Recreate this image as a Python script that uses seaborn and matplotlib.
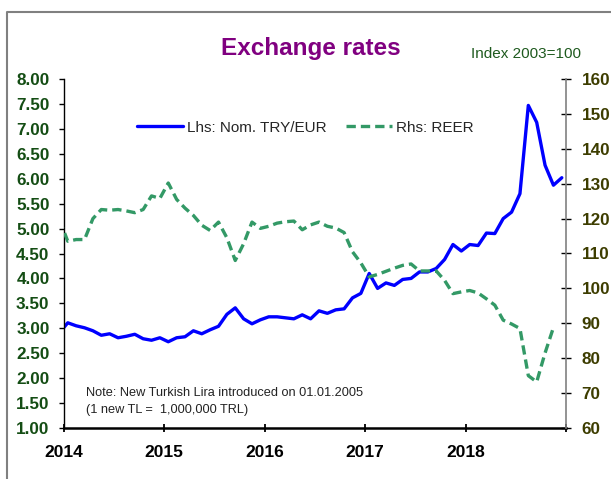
import matplotlib
matplotlib.use("Agg")
import matplotlib.pyplot as plt
from matplotlib.lines import Line2D
from matplotlib.transforms import ScaledTranslation
import numpy as np
import pandas as pd
import seaborn as sns

# Monthly observations, Dec 2013 .. Dec 2018 (Dec 2013 only anchors the first segment)
years = [2013] + [y for y in range(2014, 2019) for _ in range(12)]
months = [12] + list(range(1, 13)) * 5

# Nominal TRY/EUR (left axis)
try_eur = [
    2.91,
    3.11, 3.05, 3.01, 2.95, 2.86, 2.89, 2.81, 2.84, 2.88, 2.79, 2.76, 2.81,
    2.73, 2.81, 2.83, 2.95, 2.89, 2.97, 3.04, 3.28, 3.41, 3.19, 3.09, 3.17,
    3.23, 3.23, 3.21, 3.19, 3.27, 3.19, 3.35, 3.30, 3.37, 3.39, 3.61, 3.70,
    4.10, 3.80, 3.91, 3.86, 3.98, 4.00, 4.13, 4.13, 4.20, 4.38, 4.68, 4.55,
    4.68, 4.66, 4.91, 4.90, 5.20, 5.33, 5.70, 7.47, 7.13, 6.27, 5.87, 6.02,
]

# Real effective exchange rate, index 2003=100 (right axis); no Dec 2018 value
reer = [
    119.7,
    113.5, 114.0, 114.0, 120.0, 122.6, 122.4, 122.6, 122.2, 121.7, 122.6, 126.5, 125.8,
    130.2, 125.5, 123.0, 120.9, 118.1, 116.6, 119.0, 114.5, 108.0, 112.8, 119.0, 117.2,
    117.8, 118.7, 119.1, 119.3, 116.8, 118.2, 119.0, 117.8, 117.3, 116.0, 110.5, 107.3,
    103.3, 104.0, 104.9, 105.8, 106.6, 107.0, 105.0, 105.0, 105.0, 102.3, 98.5, 99.0,
    99.4, 98.7, 97.0, 95.2, 90.9, 89.8, 88.5, 75.0, 73.2, 81.5, 88.8, np.nan,
]

year_ticks = [2014, 2015, 2016, 2017, 2018, 2019]
year_labels = ["2014", "2015", "2016", "2017", "2018", ""]
lhs_ticks = [1.0, 1.5, 2.0, 2.5, 3.0, 3.5, 4.0, 4.5, 5.0, 5.5, 6.0, 6.5, 7.0, 7.5, 8.0]
rhs_ticks = [60, 70, 80, 90, 100, 110, 120, 130, 140, 150, 160]

df = pd.DataFrame({"year": years, "month": months, "try_eur": try_eur, "reer": reer})
# mid-month position on a decimal-year axis
df["t"] = df["year"] + (df["month"] - 0.5) / 12

sns.set_theme(style="white")
plt.rcParams["font.family"] = ["Liberation Sans", "DejaVu Sans"]

fig = plt.figure(figsize=(6.11, 4.79), dpi=100)
fig.patch.set_facecolor("white")
ax = fig.add_axes([63.6 / 611, 1 - 428 / 479, (566 - 63.6) / 611, (428 - 79) / 479])
ax.set_facecolor("none")

BLUE = "#0000FF"
GREEN = "#339966"
LHS_COL = "#144D14"
RHS_COL = "#3D3D00"

sns.lineplot(data=df, x="t", y="try_eur", ax=ax, color=BLUE, lw=2.4)
ax2 = ax.twinx()
sns.lineplot(data=df.dropna(), x="t", y="reer", ax=ax2, color=GREEN, lw=2.4)
ax2.lines[0].set_dashes((2.8, 1.5))

ax.set_xlim(2014, 2019)
ax.set_ylim(1, 8)
ax2.set_ylim(60, 160)
ax.set_xlabel("")
ax.set_ylabel("")
ax2.set_ylabel("")

ax.set_xticks(year_ticks)
ax.set_xticklabels(year_labels, fontsize=12.5, fontweight="bold", color="black")
# year labels sit slightly right of their tick marks
shift = ScaledTranslation(5 / 100, 0, fig.dpi_scale_trans)
for lab in ax.get_xticklabels():
    lab.set_transform(lab.get_transform() + shift)
ax.set_yticks(lhs_ticks)
ax.set_yticklabels([f"{v:.2f}" for v in lhs_ticks], fontsize=12.3,
                   fontweight="bold", color=LHS_COL)
ax2.set_yticks(rhs_ticks)
ax2.set_yticklabels([str(v) for v in rhs_ticks], fontsize=12.3,
                    fontweight="bold", color=RHS_COL)

ax.tick_params(axis="y", left=True, right=False, direction="out",
               length=3.6, width=1, color="black", pad=6.5)
ax.tick_params(axis="x", bottom=True, direction="inout", length=6,
               width=1.3, color="black", pad=9)
ax2.tick_params(axis="y", right=True, direction="inout", length=6.5,
                width=1, color="black", pad=8)

for s in ("top", "right"):
    ax.spines[s].set_visible(False)
ax.spines["left"].set_color("black")
ax.spines["left"].set_linewidth(1.0)
ax.spines["bottom"].set_color("black")
ax.spines["bottom"].set_linewidth(1.8)
for s in ("top", "left", "bottom"):
    ax2.spines[s].set_visible(False)
ax2.spines["right"].set_color("#808080")
ax2.spines["right"].set_linewidth(1.2)
ax.grid(False)
ax2.grid(False)

# Legend with both series
fig.legend([ax.lines[0], ax2.lines[0]],
           ["Lhs: Nom. TRY/EUR", "Rhs: REER"],
           loc="center left", bbox_to_anchor=(137 / 611, 1 - 127.5 / 479),
           ncol=2, frameon=False, fontsize=11, handlelength=3.0,
           handletextpad=0.25, columnspacing=1.3, borderpad=0,
           borderaxespad=0)

# Titles and notes
fig.text(311 / 611, 1 - 49 / 479, "Exchange rates", ha="center", va="center",
         fontsize=17.5, fontweight="bold", color="#800080")
fig.text(471 / 611, 1 - 54 / 479, "Index 2003=100", ha="left", va="center",
         fontsize=11, color="#1E5A1E")
fig.text(86 / 611, 1 - 393 / 479, "Note: New Turkish Lira introduced on 01.01.2005",
         ha="left", va="center", fontsize=9.2, color="#222222")
fig.text(86 / 611, 1 - 410 / 479, "(1 new TL =  1,000,000 TRL)",
         ha="left", va="center", fontsize=9.2, color="#222222")

# Outer frame (left and top edges)
fig.add_artist(Line2D([7.5 / 611, 7.5 / 611, 1.0], [0.0, 1 - 12 / 479, 1 - 12 / 479],
                      transform=fig.transFigure, color="#808080", lw=1.5))

fig.savefig("out.png", dpi=100, facecolor="white")
